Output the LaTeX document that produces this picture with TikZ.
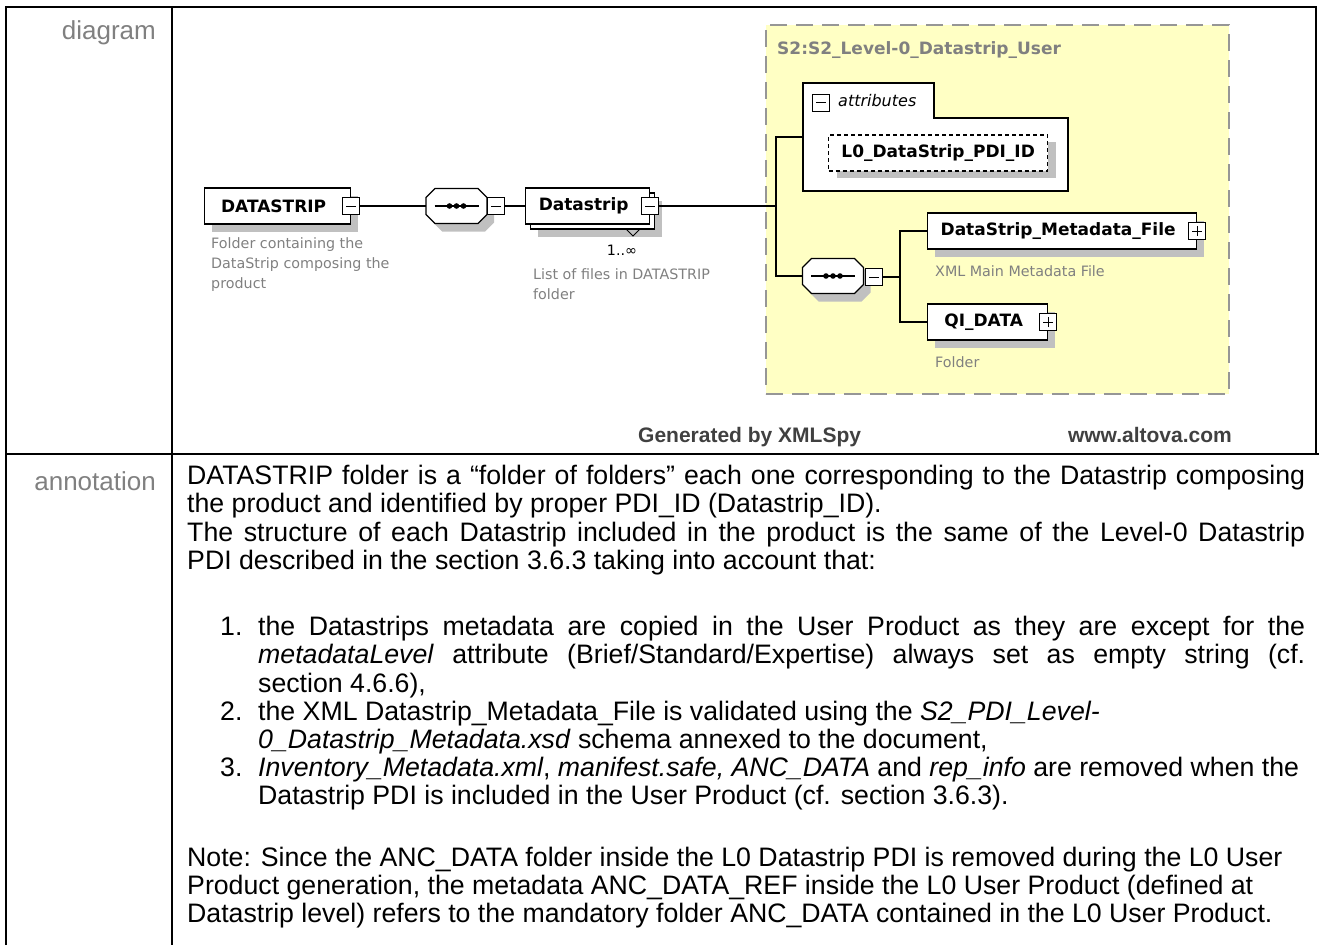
\documentclass[tikz,border=0pt]{standalone}
\usepackage{fontspec}
\setmainfont{Liberation Sans}
\newfontfamily\xsfont{DejaVu Sans}
\usepackage{tikz}
\usetikzlibrary{shadows, positioning}

\definecolor{grpfill}{RGB}{255,255,196}
\definecolor{grpline}{RGB}{150,150,150}
\definecolor{shadegray}{RGB}{192,192,192}
\definecolor{labelgray}{RGB}{128,128,128}
\definecolor{descgray}{RGB}{128,128,128}
\definecolor{footgray}{RGB}{64,64,64}

\newcommand{\fullline}[1]{\makebox[1118pt][s]{#1}}
\newcommand{\itemline}[1]{\makebox[1047pt][s]{#1}}

\begin{document}
\begin{tikzpicture}[
    x=1pt, y=-1pt,
    tbl/.style={line width=2pt},
    conn/.style={line width=1.3pt},
    elembase/.style={draw, fill=white, line width=1.3pt, minimum height=36pt, inner xsep=12pt, inner ysep=0pt,
        font=\xsfont\bfseries\fontsize{17}{18}\selectfont, execute at end node=\hspace{8pt}},
    elem/.style={elembase, drop shadow={shadow xshift=7pt, shadow yshift=-8pt, fill=shadegray, opacity=1}},
    elemmany/.style={elembase, drop shadow={shadow xshift=12pt, shadow yshift=-13pt, fill=shadegray, opacity=1},
        copy shadow={shadow xshift=5pt, shadow yshift=-5pt, draw=black, fill=white}},
    attrbox/.style={draw, dash pattern=on 4pt off 3pt, fill=white, line width=1.3pt, minimum height=36pt,
        inner xsep=12pt, inner ysep=0pt, font=\xsfont\bfseries\fontsize{17}{18}\selectfont,
        drop shadow={shadow xshift=8pt, shadow yshift=-7pt, fill=shadegray, opacity=1}},
    xbox/.style={draw, fill=white, line width=1pt, minimum size=17pt, inner sep=0pt},
    minusbox/.style={xbox, path picture={
        \draw[line width=1pt] ([xshift=-5pt]path picture bounding box.center) -- ([xshift=5pt]path picture bounding box.center);}},
    plusbox/.style={xbox, path picture={
        \draw[line width=1pt] ([xshift=-5pt]path picture bounding box.center) -- ([xshift=5pt]path picture bounding box.center);
        \draw[line width=1pt] ([yshift=-5pt]path picture bounding box.center) -- ([yshift=5pt]path picture bounding box.center);}},
    seqoct/.pic={
        \fill[shadegray] (-14.5,-9.5) -- (28.5,-9.5) -- (37.5,-0.5) -- (37.5,16.5) -- (28.5,25.5) -- (-14.5,25.5)
            -- (-23.5,16.5) -- (-23.5,-0.5) -- cycle;
        \draw[fill=white, line width=1.3pt] (-21.5,-17.5) -- (21.5,-17.5) -- (30.5,-8.5) -- (30.5,8.5) -- (21.5,17.5)
            -- (-21.5,17.5) -- (-30.5,8.5) -- (-30.5,-8.5) -- cycle;
        \draw[line width=1.3pt] (-22,0) -- (22,0);
        \foreach \dx in {-7,0,7} \fill (\dx,0) circle (2.8pt);
        \coordinate (-w) at (-30.5,0);
        \coordinate (-e) at (30.5,0);
    },
    desc/.style={font=\xsfont\fontsize{14.3}{20}\selectfont, text=descgray, align=left, inner sep=0pt},
    rowlabel/.style={font=\fontsize{26}{28}\selectfont, text=labelgray, anchor=base east, inner sep=0pt},
    ann/.style={font=\fontsize{26.7}{28}\selectfont, anchor=base west, inner sep=0pt},
    foot/.style={font=\bfseries\fontsize{21}{24}\selectfont, text=footgray, inner sep=0pt}
]
\useasboundingbox (0,0) rectangle (1319,945);

% table frame
\draw[tbl] (6,945) -- (6,7) -- (1316,7) -- (1316,454);
\draw[tbl] (172,7) -- (172,945);
\draw[tbl] (6,454) -- (1319,454);
\node[rowlabel] (diaglabel) at (156,39) {diagram};
\node[rowlabel] (annlabel) at (156,490) {annotation};

% group of the complex type
\node[draw=grpline, fill=grpfill, dash pattern=on 17pt off 9pt, line width=1.5pt,
    minimum width=463pt, minimum height=369pt, anchor=north west] (grp) at (765,24) {};
\node[font=\xsfont\bfseries\fontsize{17}{18}\selectfont, text=labelgray, anchor=base west, inner sep=0pt]
    (grplabel) at (777,54) {S2:S2\_Level-0\_Datastrip\_User};

% left part
\node[elem, minimum width=146pt, anchor=west] (dstrip) at (204,206) {DATASTRIP};
\node[minusbox] (dstripx) at (dstrip.east) {};
\node[desc, anchor=north west] (dstripdesc) at (211,237) {Folder containing the\\DataStrip composing the\\product};

\pic (seq1) at (456.5,206) {seqoct};
\node[minusbox, anchor=west] (seq1x) at (seq1-e) {};

\node[elemmany, minimum width=124pt, anchor=west] (dsitem) at (525,206) {Datastrip};
\node[minusbox] (dsitemx) at (dsitem.east) {};
\draw[line width=1pt] (626,229) -- (633,236) -- (640,229);
\node[font=\xsfont\fontsize{14.3}{16}\selectfont, inner sep=0pt] (dsitemcard) at (622,250) {1..∞};
\node[desc, anchor=north west] (dsitemdesc) at (533,268) {List of files in DATASTRIP\\folder};

% attributes
\draw[fill=white, line width=1.3pt] (803,83) -- (934,83) -- (934,118) -- (1068,118) -- (1068,191) -- (803,191) -- cycle;
\node[minusbox, anchor=west] (attrx) at (812,102.5) {};
\node[font=\xsfont\itshape\fontsize{16}{18}\selectfont, anchor=west, inner sep=0pt] (attrlabel) at (838,101) {attributes};
\node[attrbox, minimum width=219pt, anchor=west] (pdiid) at (828,153) {L0\_DataStrip\_PDI\_ID};
\coordinate (attrin) at (803,137);

% sequence inside the group
\pic (seq2) at (833,276) {seqoct};
\node[minusbox, anchor=west] (seq2x) at (865,277) {};
\node[elem, minimum width=269pt, anchor=west] (dsmeta) at (927,231) {DataStrip\_Metadata\_File};
\node[plusbox] (dsmetax) at (dsmeta.east) {};
\node[desc, anchor=west] (dsmetadesc) at (935,271) {XML Main Metadata File};
\node[elem, minimum width=120pt, anchor=west] (qidata) at (927,322) {QI\_DATA};
\node[plusbox] (qidatax) at (qidata.east) {};
\node[desc, anchor=west] (qidatadesc) at (935,362) {Folder};

% connectors
\coordinate (trunk) at (776,206);
\coordinate (fork) at (900,277);
\draw[conn] (dstripx) -- (seq1-w);
\draw[conn] (seq1x) -- (dsitem);
\draw[conn] (dsitemx) -- (trunk);
\draw[conn] (attrin) -- (attrin -| trunk) -- (trunk |- seq2-w) -- (seq2-w);
\draw[conn] (seq2x) -- (fork);
\draw[conn] (dsmeta.west) -- (dsmeta.west -| fork) -- (qidata.west -| fork) -- (qidata.west);

\node[foot, anchor=base west] (genby) at (638,442) {Generated by XMLSpy};
\node[foot, anchor=base east] (altova) at (1232,442) {www.altova.com};

% annotation text
\node[ann] (a1) at (187,484) {\fullline{DATASTRIP folder is a “folder of folders” each one corresponding to the Datastrip composing}};
\node[ann] (a2) at (187,512) {the product and identified by proper PDI\_ID (Datastrip\_ID).};
\node[ann] (a3) at (187,541) {\fullline{The structure of each Datastrip included in the product is the same of the Level-0 Datastrip}};
\node[ann] (a4) at (187,569) {PDI described in the section 3.6.3 taking into account that:};

\node[ann] (n1) at (220,635) {1.};
\node[ann] (i1a) at (258,635) {\itemline{the Datastrips metadata are copied in the User Product as they are except for the}};
\node[ann] (i1b) at (258,663) {\itemline{\textit{metadataLevel} attribute (Brief/Standard/Expertise) always set as empty string (cf.}};
\node[ann] (i1c) at (258,692) {section 4.6.6),};
\node[ann] (n2) at (220,720) {2.};
\node[ann] (i2a) at (258,720) {the XML Datastrip\_Metadata\_File is validated using the \textit{S2\_PDI\_Level-}};
\node[ann] (i2b) at (258,748) {\textit{0\_Datastrip\_Metadata.xsd} schema annexed to the document,};
\node[ann] (n3) at (220,776) {3.};
\node[ann] (i3a) at (258,776) {\textit{Inventory\_Metadata.xml}, \textit{manifest.safe, ANC\_DATA} and \textit{rep\_info} are removed when the};
\node[ann] (i3b) at (258,804) {Datastrip PDI is included in the User Product (cf. section 3.6.3).};

\node[ann] (nt1) at (187,866) {Note: Since the ANC\_DATA folder inside the L0 Datastrip PDI is removed during the L0 User};
\node[ann] (nt2) at (187,894) {Product generation, the metadata ANC\_DATA\_REF inside the L0 User Product (defined at};
\node[ann] (nt3) at (187,922) {Datastrip level) refers to the mandatory folder ANC\_DATA contained in the L0 User Product.};
\end{tikzpicture}
\end{document}
